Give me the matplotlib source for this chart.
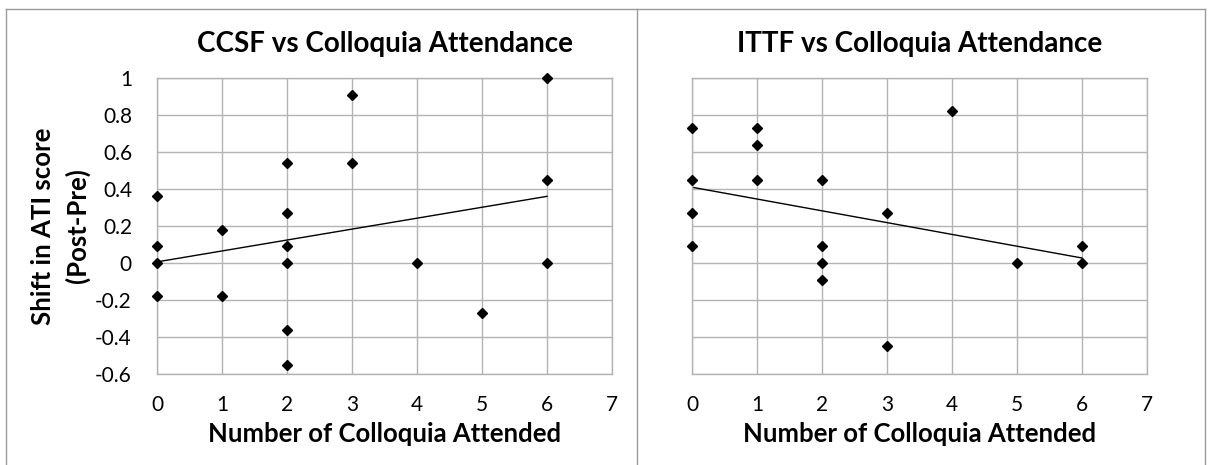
import numpy as np
import matplotlib
matplotlib.use("Agg")
import matplotlib.pyplot as plt
from matplotlib.lines import Line2D

plt.rcParams['font.family'] = ['Lato', 'DejaVu Sans']

# CCSF panel data
ccsf_x = [0, 0, 0, 0, 1, 1, 2, 2, 2, 2, 2, 2, 3, 3, 4, 5, 6, 6, 6]
ccsf_y = [0.36, 0.09, 0, -0.18, 0.18, -0.18, 0.54, 0.27, 0.09, 0, -0.36, -0.55,
          0.91, 0.54, 0, -0.27, 1.0, 0.45, 0]

# ITTF panel data
ittf_x = [0, 0, 0, 0, 1, 1, 1, 2, 2, 2, 2, 3, 3, 4, 5, 6, 6]
ittf_y = [0.73, 0.45, 0.27, 0.09, 0.73, 0.64, 0.45, 0.45, 0.09, 0, -0.09,
          0.27, -0.45, 0.82, 0, 0.09, 0]

titles = ["CCSF vs Colloquia Attendance", "ITTF vs Colloquia Attendance"]
xlabel = "Number of Colloquia Attended"
ylabel = "Shift in ATI score\n(Post-Pre)"
xticks = [0, 1, 2, 3, 4, 5, 6, 7]
yticks = [-0.6, -0.4, -0.2, 0, 0.2, 0.4, 0.6, 0.8, 1]
ytick_labels = ["-0.6", "-0.4", "-0.2", "0", "0.2", "0.4", "0.6", "0.8", "1"]

W, H = 1210, 465
fig = plt.figure(figsize=(W / 100, H / 100), dpi=100)
grid_c = '#b3b3b3'

ax1 = fig.add_axes([157 / W, 1 - 374 / H, 455 / W, 296 / H])
ax2 = fig.add_axes([692 / W, 1 - 374 / H, 455 / W, 296 / H])

for i, (ax, xs, ys) in enumerate([(ax1, ccsf_x, ccsf_y), (ax2, ittf_x, ittf_y)]):
    ax.set_xlim(0, 7)
    ax.set_ylim(-0.6, 1)
    ax.set_xticks(xticks)
    ax.set_yticks(yticks)
    ax.grid(True, color=grid_c, linewidth=1)
    ax.set_axisbelow(True)
    for s in ax.spines.values():
        s.set_color(grid_c)
        s.set_linewidth(1)
    ax.tick_params(length=0, labelsize=15, pad=15)
    ax.tick_params(axis='y', pad=18)
    ax.plot(xs, ys, 'D', color='black', markersize=5, clip_on=False, zorder=3)
    # linear trend line
    k, b = np.polyfit(xs, ys, 1)
    xl = np.array([min(xs), max(xs)])
    ax.plot(xl, k * xl + b, color='black', linewidth=1, zorder=2)
    ax.set_xlabel(xlabel, fontsize=18.5, fontweight='bold', labelpad=5)
    ax.set_title(titles[i], fontsize=20, fontweight='bold', pad=19)

ax1.set_yticklabels(ytick_labels)
ax1.set_ylabel(ylabel, fontsize=18.5, fontweight='bold', labelpad=4, linespacing=1.45)
ax2.set_yticklabels([])

# chart area borders
bc = '#9a9a9a'
fig.add_artist(Line2D([6 / W, 1205 / W], [1 - 9 / H, 1 - 9 / H], color=bc, lw=1))
fig.add_artist(Line2D([6 / W, 6 / W], [0, 1 - 9 / H], color=bc, lw=1))
fig.add_artist(Line2D([1205 / W, 1205 / W], [0, 1 - 9 / H], color=bc, lw=1))
fig.add_artist(Line2D([637 / W, 637 / W], [0, 1 - 9 / H], color=bc, lw=1))

fig.savefig("out.png", dpi=100)
